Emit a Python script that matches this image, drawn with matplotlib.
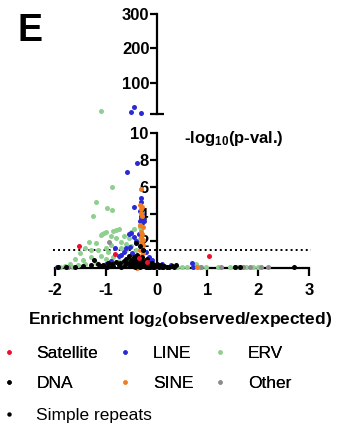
import matplotlib
matplotlib.use('Agg')
import matplotlib.pyplot as plt
from matplotlib.lines import Line2D
from matplotlib.ticker import FixedLocator, NullLocator
from matplotlib.transforms import offset_copy

plt.rcParams['font.family'] = ['Liberation Sans', 'DejaVu Sans']
plt.rcParams['font.weight'] = 'bold'
plt.rcParams['mathtext.fontset'] = 'custom'
plt.rcParams['mathtext.rm'] = 'Liberation Sans:bold'
plt.rcParams['mathtext.default'] = 'rm'
plt.rcParams['axes.unicode_minus'] = False

# ---------------- data ----------------
categories = ['Satellite', 'LINE', 'ERV', 'DNA', 'SINE', 'Other', 'Simple repeats']
colors = {'Satellite': '#e8112d', 'LINE': '#2b2bd6', 'ERV': '#8fcf8f', 'DNA': '#000000',
          'SINE': '#f07d20', 'Other': '#8c8c8c', 'Simple repeats': '#000000'}

satellite_x = [-1.53, -0.81, -0.35, -0.18, 1.03]
satellite_y = [1.65, 1.05, 0.72, 0.42, 0.89]

line_x = [-0.38, -0.58, -0.31, -0.30, -0.45, -0.32, -0.29, -0.31, -0.27, -0.33, -0.28, -0.25,
          -0.35, -0.40, -0.45, -0.50, -0.55, -0.52, -0.60, -0.65, -0.70, -0.82, -0.75, -0.48,
          -0.42, -0.20, -0.15, -0.10, 0.10, 0.29, 0.70, 0.72, -1.97, -1.00, -0.90,
          -0.44, -0.50, -0.30]
line_y = [7.8, 7.13, 5.2, 4.9, 4.54, 4.2, 3.95, 3.7, 3.6, 3.45, 3.3, 3.5,
          2.5, 2.0, 2.3, 2.6, 2.55, 1.55, 1.5, 1.2, 1.0, 1.5, 0.9, 1.1,
          0.9, 1.2, 0.8, 0.6, 0.3, 0.2, 0.37, 0.1, 0.1, 0.3, 0.5,
          30.0, 16.0, 12.0]

erv_x = [-0.87, -1.20, -0.98, -0.87, -1.25, -0.75, -0.80, -1.03, -1.08, -0.85, -1.00, -1.10,
         -0.90, -0.65, -0.55, -0.50, -0.45, -0.60, -0.70, -0.80, -1.33, -1.20, -1.50, -1.40,
         -1.30, -1.15, -1.00, -0.95, -0.90, -0.70, -0.60, -0.50, -0.40, -0.35, -0.33, -0.30,
         -1.60, -1.45, -1.30, -1.10, -1.00, -0.85, -1.70, -1.80, -1.55, -1.40, -1.20, -1.00,
         -0.75, -0.55, -0.20, 0.00, 0.20, 0.40, 0.50, 0.60, 0.78, 0.85, 0.98, 1.20, 1.45,
         1.60, 1.75, 1.90, 2.00, -1.90, -1.65, -1.09]
erv_y = [5.98, 4.87, 4.42, 4.30, 3.85, 2.90, 2.85, 2.60, 2.50, 2.75, 2.65, 2.45,
         2.35, 2.40, 2.20, 2.70, 2.90, 1.80, 1.90, 2.20, 1.95, 1.83, 1.10, 1.45,
         1.30, 1.35, 1.50, 1.20, 1.70, 1.50, 1.30, 1.60, 1.30, 2.10, 3.00, 2.80,
         0.70, 0.60, 0.80, 0.90, 0.70, 0.80, 0.30, 0.15, 0.25, 0.30, 0.40, 0.20,
         0.50, 0.60, 0.30, 0.10, 0.10, 0.05, 0.05, 0.05, 0.30, 0.05, 0.05, 0.05, 0.05,
         0.05, 0.05, 0.05, 0.05, 0.05, 0.10, 19.0]

dna_x = [-1.95, -1.79, -1.60, -1.45, -1.30, -1.23, -1.15, -1.05, -0.95, -0.88, -0.80, -0.72,
         -0.65, -0.60, -0.55, -0.50, -0.45, -0.42, -0.40, -0.38, -0.36, -0.34, -0.32, -0.30,
         -0.28, -0.26, -0.24, -0.22, -0.20, -0.18, -0.16, -0.14, -0.12, -0.10, -0.08, -0.05,
         -0.02, 0.02, 0.05, 0.08, 0.12, 0.15, 0.20, 0.25, 0.30, 0.35, 0.38, 1.55, 1.65, 2.70,
         -0.33, -0.40, -0.27]
dna_y = [0.05, 0.10, 0.10, 0.15, 0.20, 0.59, 0.30, 0.25, 0.40, 0.30, 0.45, 0.35,
         0.50, 0.70, 0.40, 0.60, 0.80, 0.50, 0.30, 1.00, 0.70, 0.45, 0.20, 0.60,
         0.85, 0.35, 0.15, 0.55, 0.30, 0.70, 0.10, 0.40, 0.20, 0.35, 0.10, 0.25,
         0.15, 0.20, 0.10, 0.25, 0.10, 0.15, 0.05, 0.10, 0.15, 0.05, 0.20, 0.05, 0.05, 0.05,
         1.64, 1.83, 1.30]

sine_x = [-0.31, -0.33, -0.29, -0.30, -0.30, -0.28, -0.32, -0.26, -0.30, -0.28, -0.31, -0.27,
          -0.30, -0.26, -0.29, -0.32, -0.27, -0.30, -0.25, -0.35, -0.38, 0.80]
sine_y = [5.85, 4.70, 4.54, 4.35, 4.10, 3.85, 3.20, 3.00, 2.70, 2.50, 2.30, 2.10,
          1.90, 1.70, 1.50, 1.30, 1.10, 0.90, 0.60, 0.30, 0.00, 0.05]

other_x = [-0.93, -1.75, 0.87, 1.27, 1.55, 1.70, 1.83, 2.05, 2.20, -0.50]
other_y = [1.95, 0.05, 0.05, 0.05, 0.05, 0.05, 0.05, 0.05, 0.05, 0.30]

simple_x = [-1.10, -0.98, -0.85, -0.70, -0.62, -0.52, -0.47, -0.43, -0.37, -0.33, -0.29, -0.25,
            -0.21, -0.17, -0.13, -0.09, -0.06, 0.00, 0.10, -0.55, -0.48, -0.60, -0.75, -0.90]
simple_y = [0.15, 0.10, 0.15, 0.10, 0.20, 0.15, 0.25, 0.10, 0.15, 0.05, 0.30, 0.20,
            0.10, 0.25, 0.05, 0.20, 0.05, 0.30, 0.05, 0.90, 0.55, 0.35, 0.20, 0.15]

series = {'Satellite': (satellite_x, satellite_y), 'LINE': (line_x, line_y),
          'ERV': (erv_x, erv_y), 'DNA': (dna_x, dna_y), 'SINE': (sine_x, sine_y),
          'Other': (other_x, other_y), 'Simple repeats': (simple_x, simple_y)}
draw_order = ['ERV', 'Other', 'LINE', 'SINE', 'DNA', 'Simple repeats', 'Satellite']

x_ticks = [-2, -1, 0, 1, 2, 3]
y_ticks_low = [0, 2, 4, 6, 8, 10]
y_ticks_high = [100, 200, 300]
break_val = 10
threshold = 1.3

# ---------------- figure ----------------
fig = plt.figure(figsize=(3.43, 4.29), dpi=100)
ax = fig.add_axes([0.1455, 0.3627, 0.7703, 0.3273])
axt = fig.add_axes([0.1455, 0.7343, 0.7703, 0.2331])

lw = 1.6
for a in (ax, axt):
    a.set_xlim(-2.1, 3.1)
    a.patch.set_alpha(0)
    for s in ('top', 'right'):
        a.spines[s].set_visible(False)
    a.spines['left'].set_position(('data', 0))
    a.spines['left'].set_linewidth(lw)

ax.set_ylim(-0.4, 10.0)
axt.set_ylim(break_val, 300)

for name in draw_order:
    xs, ys = series[name]
    lo = [(x, y) for x, y in zip(xs, ys) if y <= break_val]
    hi = [(x, y) for x, y in zip(xs, ys) if y > break_val]
    if lo:
        ax.scatter([p[0] for p in lo], [p[1] for p in lo], s=13, color=colors[name],
                   linewidths=0, clip_on=False, zorder=3)
    if hi:
        axt.scatter([p[0] for p in hi], [p[1] for p in hi], s=13, color=colors[name],
                    linewidths=0, clip_on=False, zorder=3)

ax.axhline(threshold, xmin=0.01, xmax=0.99, color='black', lw=1.4,
           linestyle=(0, (1, 1.6)), zorder=2)

# bottom axes
ax.spines['bottom'].set_position(('data', 0))
ax.spines['bottom'].set_linewidth(lw)
ax.spines['bottom'].set_bounds(-2, 3)
ax.spines['left'].set_bounds(0, 10)
ax.set_xticks(x_ticks, labels=[str(t) for t in x_ticks])
ax.set_yticks(y_ticks_low, labels=['' if t == 0 else str(t) for t in y_ticks_low])
ax.yaxis.set_minor_locator(FixedLocator([10]))
ax.xaxis.set_minor_locator(NullLocator())
ax.tick_params(axis='x', direction='out', length=6, width=lw, pad=5, labelsize=12)
ax.tick_params(axis='y', which='major', direction='out', length=5, width=lw, pad=1, labelsize=12)
ax.tick_params(axis='y', which='minor', direction='in', length=5, width=lw)

# top axes: ticks drawn by the axis, labels placed at the tick values
axt.spines['bottom'].set_visible(False)
axt.spines['left'].set_bounds(break_val, 300)
axt.set_xticks([])
axt.set_yticks(y_ticks_high, labels=['' for t in y_ticks_high])
axt.yaxis.set_minor_locator(FixedLocator([break_val]))
axt.tick_params(axis='y', which='major', direction='out', length=5, width=lw, pad=1, labelsize=12)
axt.tick_params(axis='y', which='minor', direction='inout', length=10, width=lw)
label_tr = offset_copy(axt.transData, fig=fig, x=-5.2, y=0, units='points')
for t in y_ticks_high:
    axt.text(0, t, str(t), transform=label_tr, ha='right', va='center_baseline',
             fontsize=12, fontweight='bold', clip_on=False)

# texts
fig.text(0.536, 0.678, '-log$_{10}$(p-val.)', fontsize=12, fontweight='bold',
         ha='left', va='center')
fig.text(0.525, 0.255, 'Enrichment log$_2$(observed/expected)', fontsize=12.5,
         fontweight='bold', ha='center', va='center')
fig.text(0.05, 0.97, 'E', fontsize=27, fontweight='bold', ha='left', va='top')

# legend
def handle(name):
    return Line2D([], [], marker='o', linestyle='none', markersize=3.2,
                  markerfacecolor=colors[name], markeredgewidth=0)

leg_order = ['Satellite', 'DNA', 'LINE', 'SINE', 'ERV', 'Other']
leg_kw = dict(frameon=False, handlelength=1.0, handletextpad=1.1,
              borderaxespad=0, borderpad=0, prop={'weight': 'normal', 'size': 12.5})
leg1 = fig.legend([handle(n) for n in leg_order], leg_order, ncol=3, loc='upper left',
                  bbox_to_anchor=(0.0, 0.193), columnspacing=1.05, labelspacing=0.82,
                  **leg_kw)
fig.add_artist(leg1)
fig.legend([handle('Simple repeats')], ['Simple repeats'], loc='upper left',
           bbox_to_anchor=(0.0, 0.050), **leg_kw)

fig.savefig('out.png', dpi=100)
